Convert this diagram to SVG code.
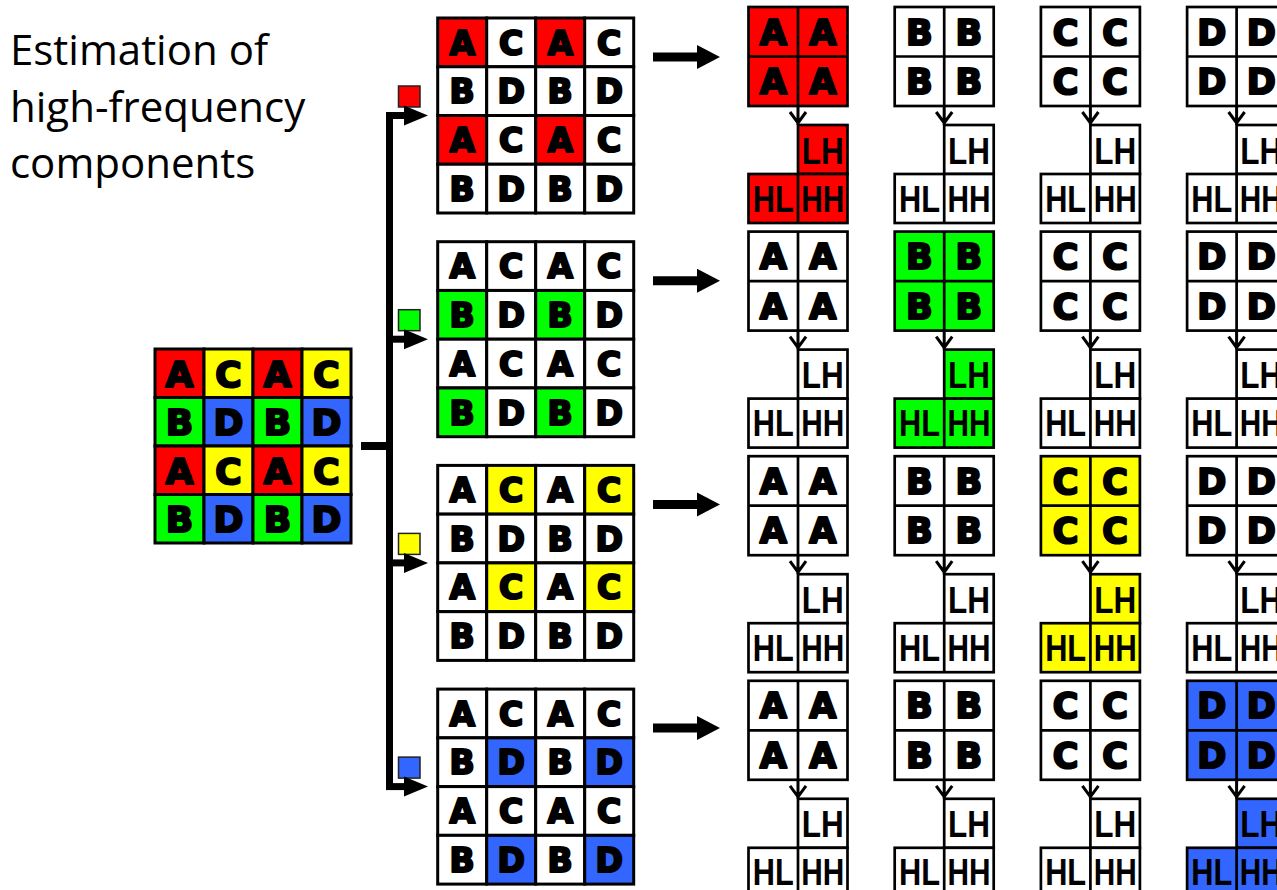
<svg xmlns="http://www.w3.org/2000/svg" width="1277" height="890" viewBox="0 0 1277 890">
<style>
.title{font-family:"Open Sans","Liberation Sans",sans-serif;font-size:42px;fill:#000}
.c{fill:#fff;stroke:#000;stroke-width:3}
.rb{fill:#fff;stroke:#000;stroke-width:2.7}
.rl{fill:none;stroke:#000;stroke-width:2.7}
.c.r,.rb.r{fill:#FF0000}
.c.g,.rb.g{fill:#00FF00}
.c.y,.rb.y{fill:#FFFF00}
.c.b,.rb.b{fill:#3366FF}
.L{font-family:"DejaVu Sans","Liberation Sans",sans-serif;font-weight:bold;text-anchor:middle;fill:#000;stroke:#000;stroke-width:2.2;stroke-linejoin:round}
.Ll{font-size:36px}
.Lm{font-size:33px}
.Lr{font-size:35px}
.sub{font-family:"Liberation Sans",Arial,sans-serif;font-weight:bold;font-size:36px;text-anchor:middle;fill:#000}
.ind{stroke:#222;stroke-width:1.5}
.ind.r{fill:#FF0000}.ind.g{fill:#00FF00}.ind.y{fill:#FFFF00}.ind.b{fill:#3366FF}
.k{fill:none;stroke:#000}
.hd{fill:#000}
</style>

<g id="title">
<text class="title" x="10" y="65">Estimation of</text>
<text class="title" x="10" y="122">high-frequency</text>
<text class="title" x="10" y="178">components</text>
</g>

<g id="input" transform="translate(155,349)">
<rect class="c r" x="0" y="0" width="49" height="48.5"/><rect class="c y" x="49" y="0" width="49" height="48.5"/><rect class="c r" x="98" y="0" width="49" height="48.5"/><rect class="c y" x="147" y="0" width="49" height="48.5"/>
<rect class="c g" x="0" y="48.5" width="49" height="48.5"/><rect class="c b" x="49" y="48.5" width="49" height="48.5"/><rect class="c g" x="98" y="48.5" width="49" height="48.5"/><rect class="c b" x="147" y="48.5" width="49" height="48.5"/>
<rect class="c r" x="0" y="97" width="49" height="48.5"/><rect class="c y" x="49" y="97" width="49" height="48.5"/><rect class="c r" x="98" y="97" width="49" height="48.5"/><rect class="c y" x="147" y="97" width="49" height="48.5"/>
<rect class="c g" x="0" y="145.5" width="49" height="48.5"/><rect class="c b" x="49" y="145.5" width="49" height="48.5"/><rect class="c g" x="98" y="145.5" width="49" height="48.5"/><rect class="c b" x="147" y="145.5" width="49" height="48.5"/>
<text class="L Ll" x="24.5" y="37.5">A</text><text class="L Ll" x="73.5" y="37.5">C</text><text class="L Ll" x="122.5" y="37.5">A</text><text class="L Ll" x="171.5" y="37.5">C</text>
<text class="L Ll" x="24.5" y="86">B</text><text class="L Ll" x="73.5" y="86">D</text><text class="L Ll" x="122.5" y="86">B</text><text class="L Ll" x="171.5" y="86">D</text>
<text class="L Ll" x="24.5" y="134.5">A</text><text class="L Ll" x="73.5" y="134.5">C</text><text class="L Ll" x="122.5" y="134.5">A</text><text class="L Ll" x="171.5" y="134.5">C</text>
<text class="L Ll" x="24.5" y="183">B</text><text class="L Ll" x="73.5" y="183">D</text><text class="L Ll" x="122.5" y="183">B</text><text class="L Ll" x="171.5" y="183">D</text>
</g>

<g id="grid-A" transform="translate(437.7,18)">
<rect class="c r" x="0" y="0" width="49" height="48.75"/><rect class="c" x="49" y="0" width="49" height="48.75"/><rect class="c r" x="98" y="0" width="49" height="48.75"/><rect class="c" x="147" y="0" width="49" height="48.75"/>
<rect class="c" x="0" y="48.75" width="49" height="48.75"/><rect class="c" x="49" y="48.75" width="49" height="48.75"/><rect class="c" x="98" y="48.75" width="49" height="48.75"/><rect class="c" x="147" y="48.75" width="49" height="48.75"/>
<rect class="c r" x="0" y="97.5" width="49" height="48.75"/><rect class="c" x="49" y="97.5" width="49" height="48.75"/><rect class="c r" x="98" y="97.5" width="49" height="48.75"/><rect class="c" x="147" y="97.5" width="49" height="48.75"/>
<rect class="c" x="0" y="146.25" width="49" height="48.75"/><rect class="c" x="49" y="146.25" width="49" height="48.75"/><rect class="c" x="98" y="146.25" width="49" height="48.75"/><rect class="c" x="147" y="146.25" width="49" height="48.75"/>
<text class="L Lm" x="24.5" y="36.6">A</text><text class="L Lm" x="73.5" y="36.6">C</text><text class="L Lm" x="122.5" y="36.6">A</text><text class="L Lm" x="171.5" y="36.6">C</text>
<text class="L Lm" x="24.5" y="85.4">B</text><text class="L Lm" x="73.5" y="85.4">D</text><text class="L Lm" x="122.5" y="85.4">B</text><text class="L Lm" x="171.5" y="85.4">D</text>
<text class="L Lm" x="24.5" y="134.1">A</text><text class="L Lm" x="73.5" y="134.1">C</text><text class="L Lm" x="122.5" y="134.1">A</text><text class="L Lm" x="171.5" y="134.1">C</text>
<text class="L Lm" x="24.5" y="182.9">B</text><text class="L Lm" x="73.5" y="182.9">D</text><text class="L Lm" x="122.5" y="182.9">B</text><text class="L Lm" x="171.5" y="182.9">D</text>
</g>

<g id="grid-B" transform="translate(437.7,241.7)">
<rect class="c" x="0" y="0" width="49" height="48.75"/><rect class="c" x="49" y="0" width="49" height="48.75"/><rect class="c" x="98" y="0" width="49" height="48.75"/><rect class="c" x="147" y="0" width="49" height="48.75"/>
<rect class="c g" x="0" y="48.75" width="49" height="48.75"/><rect class="c" x="49" y="48.75" width="49" height="48.75"/><rect class="c g" x="98" y="48.75" width="49" height="48.75"/><rect class="c" x="147" y="48.75" width="49" height="48.75"/>
<rect class="c" x="0" y="97.5" width="49" height="48.75"/><rect class="c" x="49" y="97.5" width="49" height="48.75"/><rect class="c" x="98" y="97.5" width="49" height="48.75"/><rect class="c" x="147" y="97.5" width="49" height="48.75"/>
<rect class="c g" x="0" y="146.25" width="49" height="48.75"/><rect class="c" x="49" y="146.25" width="49" height="48.75"/><rect class="c g" x="98" y="146.25" width="49" height="48.75"/><rect class="c" x="147" y="146.25" width="49" height="48.75"/>
<text class="L Lm" x="24.5" y="36.6">A</text><text class="L Lm" x="73.5" y="36.6">C</text><text class="L Lm" x="122.5" y="36.6">A</text><text class="L Lm" x="171.5" y="36.6">C</text>
<text class="L Lm" x="24.5" y="85.4">B</text><text class="L Lm" x="73.5" y="85.4">D</text><text class="L Lm" x="122.5" y="85.4">B</text><text class="L Lm" x="171.5" y="85.4">D</text>
<text class="L Lm" x="24.5" y="134.1">A</text><text class="L Lm" x="73.5" y="134.1">C</text><text class="L Lm" x="122.5" y="134.1">A</text><text class="L Lm" x="171.5" y="134.1">C</text>
<text class="L Lm" x="24.5" y="182.9">B</text><text class="L Lm" x="73.5" y="182.9">D</text><text class="L Lm" x="122.5" y="182.9">B</text><text class="L Lm" x="171.5" y="182.9">D</text>
</g>

<g id="grid-C" transform="translate(437.7,465.4)">
<rect class="c" x="0" y="0" width="49" height="48.75"/><rect class="c y" x="49" y="0" width="49" height="48.75"/><rect class="c" x="98" y="0" width="49" height="48.75"/><rect class="c y" x="147" y="0" width="49" height="48.75"/>
<rect class="c" x="0" y="48.75" width="49" height="48.75"/><rect class="c" x="49" y="48.75" width="49" height="48.75"/><rect class="c" x="98" y="48.75" width="49" height="48.75"/><rect class="c" x="147" y="48.75" width="49" height="48.75"/>
<rect class="c" x="0" y="97.5" width="49" height="48.75"/><rect class="c y" x="49" y="97.5" width="49" height="48.75"/><rect class="c" x="98" y="97.5" width="49" height="48.75"/><rect class="c y" x="147" y="97.5" width="49" height="48.75"/>
<rect class="c" x="0" y="146.25" width="49" height="48.75"/><rect class="c" x="49" y="146.25" width="49" height="48.75"/><rect class="c" x="98" y="146.25" width="49" height="48.75"/><rect class="c" x="147" y="146.25" width="49" height="48.75"/>
<text class="L Lm" x="24.5" y="36.6">A</text><text class="L Lm" x="73.5" y="36.6">C</text><text class="L Lm" x="122.5" y="36.6">A</text><text class="L Lm" x="171.5" y="36.6">C</text>
<text class="L Lm" x="24.5" y="85.4">B</text><text class="L Lm" x="73.5" y="85.4">D</text><text class="L Lm" x="122.5" y="85.4">B</text><text class="L Lm" x="171.5" y="85.4">D</text>
<text class="L Lm" x="24.5" y="134.1">A</text><text class="L Lm" x="73.5" y="134.1">C</text><text class="L Lm" x="122.5" y="134.1">A</text><text class="L Lm" x="171.5" y="134.1">C</text>
<text class="L Lm" x="24.5" y="182.9">B</text><text class="L Lm" x="73.5" y="182.9">D</text><text class="L Lm" x="122.5" y="182.9">B</text><text class="L Lm" x="171.5" y="182.9">D</text>
</g>

<g id="grid-D" transform="translate(437.7,689.1)">
<rect class="c" x="0" y="0" width="49" height="48.75"/><rect class="c" x="49" y="0" width="49" height="48.75"/><rect class="c" x="98" y="0" width="49" height="48.75"/><rect class="c" x="147" y="0" width="49" height="48.75"/>
<rect class="c" x="0" y="48.75" width="49" height="48.75"/><rect class="c b" x="49" y="48.75" width="49" height="48.75"/><rect class="c" x="98" y="48.75" width="49" height="48.75"/><rect class="c b" x="147" y="48.75" width="49" height="48.75"/>
<rect class="c" x="0" y="97.5" width="49" height="48.75"/><rect class="c" x="49" y="97.5" width="49" height="48.75"/><rect class="c" x="98" y="97.5" width="49" height="48.75"/><rect class="c" x="147" y="97.5" width="49" height="48.75"/>
<rect class="c" x="0" y="146.25" width="49" height="48.75"/><rect class="c b" x="49" y="146.25" width="49" height="48.75"/><rect class="c" x="98" y="146.25" width="49" height="48.75"/><rect class="c b" x="147" y="146.25" width="49" height="48.75"/>
<text class="L Lm" x="24.5" y="36.6">A</text><text class="L Lm" x="73.5" y="36.6">C</text><text class="L Lm" x="122.5" y="36.6">A</text><text class="L Lm" x="171.5" y="36.6">C</text>
<text class="L Lm" x="24.5" y="85.4">B</text><text class="L Lm" x="73.5" y="85.4">D</text><text class="L Lm" x="122.5" y="85.4">B</text><text class="L Lm" x="171.5" y="85.4">D</text>
<text class="L Lm" x="24.5" y="134.1">A</text><text class="L Lm" x="73.5" y="134.1">C</text><text class="L Lm" x="122.5" y="134.1">A</text><text class="L Lm" x="171.5" y="134.1">C</text>
<text class="L Lm" x="24.5" y="182.9">B</text><text class="L Lm" x="73.5" y="182.9">D</text><text class="L Lm" x="122.5" y="182.9">B</text><text class="L Lm" x="171.5" y="182.9">D</text>
</g>

<g id="indicators">
<rect id="ind-A" class="ind r" x="398.5" y="86" width="21.5" height="21"/>
<rect id="ind-B" class="ind g" x="398.5" y="309.7" width="21.5" height="21"/>
<rect id="ind-C" class="ind y" x="398.5" y="533.4" width="21.5" height="21"/>
<rect id="ind-D" class="ind b" x="398.5" y="757.1" width="21.5" height="21"/>
</g>

<!-- Right blocks: row 0 (A) -->
<g id="blk-0-A" transform="translate(748.5,7)">
<rect class="rb r" x="0" y="0" width="99" height="99"/><rect class="rb r" x="49.5" y="118" width="49.5" height="49"/><rect class="rb r" x="0" y="167" width="99" height="49"/>
<path class="rl" d="M49.5 0V99M0 49.5H99M49.5 167V216"/>
<text class="L Lr" x="24.75" y="37.5">A</text><text class="L Lr" x="74.25" y="37.5">A</text><text class="L Lr" x="24.75" y="87">A</text><text class="L Lr" x="74.25" y="87">A</text>
<text class="sub" x="74.25" y="156.5" textLength="42" lengthAdjust="spacingAndGlyphs">LH</text><text class="sub" x="24.75" y="204.5" textLength="41" lengthAdjust="spacingAndGlyphs">HL</text><text class="sub" x="74.25" y="204.5" textLength="43" lengthAdjust="spacingAndGlyphs">HH</text>
</g>
<g id="blk-0-B" transform="translate(894.7,7)">
<rect class="rb" x="0" y="0" width="99" height="99"/><rect class="rb" x="49.5" y="118" width="49.5" height="49"/><rect class="rb" x="0" y="167" width="99" height="49"/>
<path class="rl" d="M49.5 0V99M0 49.5H99M49.5 167V216"/>
<text class="L Lr" x="24.75" y="37.5">B</text><text class="L Lr" x="74.25" y="37.5">B</text><text class="L Lr" x="24.75" y="87">B</text><text class="L Lr" x="74.25" y="87">B</text>
<text class="sub" x="74.25" y="156.5" textLength="42" lengthAdjust="spacingAndGlyphs">LH</text><text class="sub" x="24.75" y="204.5" textLength="41" lengthAdjust="spacingAndGlyphs">HL</text><text class="sub" x="74.25" y="204.5" textLength="43" lengthAdjust="spacingAndGlyphs">HH</text>
</g>
<g id="blk-0-C" transform="translate(1040.9,7)">
<rect class="rb" x="0" y="0" width="99" height="99"/><rect class="rb" x="49.5" y="118" width="49.5" height="49"/><rect class="rb" x="0" y="167" width="99" height="49"/>
<path class="rl" d="M49.5 0V99M0 49.5H99M49.5 167V216"/>
<text class="L Lr" x="24.75" y="37.5">C</text><text class="L Lr" x="74.25" y="37.5">C</text><text class="L Lr" x="24.75" y="87">C</text><text class="L Lr" x="74.25" y="87">C</text>
<text class="sub" x="74.25" y="156.5" textLength="42" lengthAdjust="spacingAndGlyphs">LH</text><text class="sub" x="24.75" y="204.5" textLength="41" lengthAdjust="spacingAndGlyphs">HL</text><text class="sub" x="74.25" y="204.5" textLength="43" lengthAdjust="spacingAndGlyphs">HH</text>
</g>
<g id="blk-0-D" transform="translate(1187.1,7)">
<rect class="rb" x="0" y="0" width="99" height="99"/><rect class="rb" x="49.5" y="118" width="49.5" height="49"/><rect class="rb" x="0" y="167" width="99" height="49"/>
<path class="rl" d="M49.5 0V99M0 49.5H99M49.5 167V216"/>
<text class="L Lr" x="24.75" y="37.5">D</text><text class="L Lr" x="74.25" y="37.5">D</text><text class="L Lr" x="24.75" y="87">D</text><text class="L Lr" x="74.25" y="87">D</text>
<text class="sub" x="74.25" y="156.5" textLength="42" lengthAdjust="spacingAndGlyphs">LH</text><text class="sub" x="24.75" y="204.5" textLength="41" lengthAdjust="spacingAndGlyphs">HL</text><text class="sub" x="74.25" y="204.5" textLength="43" lengthAdjust="spacingAndGlyphs">HH</text>
</g>

<!-- row 1 (B) -->
<g id="blk-1-A" transform="translate(748.5,231.6)">
<rect class="rb" x="0" y="0" width="99" height="99"/><rect class="rb" x="49.5" y="118" width="49.5" height="49"/><rect class="rb" x="0" y="167" width="99" height="49"/>
<path class="rl" d="M49.5 0V99M0 49.5H99M49.5 167V216"/>
<text class="L Lr" x="24.75" y="37.5">A</text><text class="L Lr" x="74.25" y="37.5">A</text><text class="L Lr" x="24.75" y="87">A</text><text class="L Lr" x="74.25" y="87">A</text>
<text class="sub" x="74.25" y="156.5" textLength="42" lengthAdjust="spacingAndGlyphs">LH</text><text class="sub" x="24.75" y="204.5" textLength="41" lengthAdjust="spacingAndGlyphs">HL</text><text class="sub" x="74.25" y="204.5" textLength="43" lengthAdjust="spacingAndGlyphs">HH</text>
</g>
<g id="blk-1-B" transform="translate(894.7,231.6)">
<rect class="rb g" x="0" y="0" width="99" height="99"/><rect class="rb g" x="49.5" y="118" width="49.5" height="49"/><rect class="rb g" x="0" y="167" width="99" height="49"/>
<path class="rl" d="M49.5 0V99M0 49.5H99M49.5 167V216"/>
<text class="L Lr" x="24.75" y="37.5">B</text><text class="L Lr" x="74.25" y="37.5">B</text><text class="L Lr" x="24.75" y="87">B</text><text class="L Lr" x="74.25" y="87">B</text>
<text class="sub" x="74.25" y="156.5" textLength="42" lengthAdjust="spacingAndGlyphs">LH</text><text class="sub" x="24.75" y="204.5" textLength="41" lengthAdjust="spacingAndGlyphs">HL</text><text class="sub" x="74.25" y="204.5" textLength="43" lengthAdjust="spacingAndGlyphs">HH</text>
</g>
<g id="blk-1-C" transform="translate(1040.9,231.6)">
<rect class="rb" x="0" y="0" width="99" height="99"/><rect class="rb" x="49.5" y="118" width="49.5" height="49"/><rect class="rb" x="0" y="167" width="99" height="49"/>
<path class="rl" d="M49.5 0V99M0 49.5H99M49.5 167V216"/>
<text class="L Lr" x="24.75" y="37.5">C</text><text class="L Lr" x="74.25" y="37.5">C</text><text class="L Lr" x="24.75" y="87">C</text><text class="L Lr" x="74.25" y="87">C</text>
<text class="sub" x="74.25" y="156.5" textLength="42" lengthAdjust="spacingAndGlyphs">LH</text><text class="sub" x="24.75" y="204.5" textLength="41" lengthAdjust="spacingAndGlyphs">HL</text><text class="sub" x="74.25" y="204.5" textLength="43" lengthAdjust="spacingAndGlyphs">HH</text>
</g>
<g id="blk-1-D" transform="translate(1187.1,231.6)">
<rect class="rb" x="0" y="0" width="99" height="99"/><rect class="rb" x="49.5" y="118" width="49.5" height="49"/><rect class="rb" x="0" y="167" width="99" height="49"/>
<path class="rl" d="M49.5 0V99M0 49.5H99M49.5 167V216"/>
<text class="L Lr" x="24.75" y="37.5">D</text><text class="L Lr" x="74.25" y="37.5">D</text><text class="L Lr" x="24.75" y="87">D</text><text class="L Lr" x="74.25" y="87">D</text>
<text class="sub" x="74.25" y="156.5" textLength="42" lengthAdjust="spacingAndGlyphs">LH</text><text class="sub" x="24.75" y="204.5" textLength="41" lengthAdjust="spacingAndGlyphs">HL</text><text class="sub" x="74.25" y="204.5" textLength="43" lengthAdjust="spacingAndGlyphs">HH</text>
</g>

<!-- row 2 (C) -->
<g id="blk-2-A" transform="translate(748.5,456.2)">
<rect class="rb" x="0" y="0" width="99" height="99"/><rect class="rb" x="49.5" y="118" width="49.5" height="49"/><rect class="rb" x="0" y="167" width="99" height="49"/>
<path class="rl" d="M49.5 0V99M0 49.5H99M49.5 167V216"/>
<text class="L Lr" x="24.75" y="37.5">A</text><text class="L Lr" x="74.25" y="37.5">A</text><text class="L Lr" x="24.75" y="87">A</text><text class="L Lr" x="74.25" y="87">A</text>
<text class="sub" x="74.25" y="156.5" textLength="42" lengthAdjust="spacingAndGlyphs">LH</text><text class="sub" x="24.75" y="204.5" textLength="41" lengthAdjust="spacingAndGlyphs">HL</text><text class="sub" x="74.25" y="204.5" textLength="43" lengthAdjust="spacingAndGlyphs">HH</text>
</g>
<g id="blk-2-B" transform="translate(894.7,456.2)">
<rect class="rb" x="0" y="0" width="99" height="99"/><rect class="rb" x="49.5" y="118" width="49.5" height="49"/><rect class="rb" x="0" y="167" width="99" height="49"/>
<path class="rl" d="M49.5 0V99M0 49.5H99M49.5 167V216"/>
<text class="L Lr" x="24.75" y="37.5">B</text><text class="L Lr" x="74.25" y="37.5">B</text><text class="L Lr" x="24.75" y="87">B</text><text class="L Lr" x="74.25" y="87">B</text>
<text class="sub" x="74.25" y="156.5" textLength="42" lengthAdjust="spacingAndGlyphs">LH</text><text class="sub" x="24.75" y="204.5" textLength="41" lengthAdjust="spacingAndGlyphs">HL</text><text class="sub" x="74.25" y="204.5" textLength="43" lengthAdjust="spacingAndGlyphs">HH</text>
</g>
<g id="blk-2-C" transform="translate(1040.9,456.2)">
<rect class="rb y" x="0" y="0" width="99" height="99"/><rect class="rb y" x="49.5" y="118" width="49.5" height="49"/><rect class="rb y" x="0" y="167" width="99" height="49"/>
<path class="rl" d="M49.5 0V99M0 49.5H99M49.5 167V216"/>
<text class="L Lr" x="24.75" y="37.5">C</text><text class="L Lr" x="74.25" y="37.5">C</text><text class="L Lr" x="24.75" y="87">C</text><text class="L Lr" x="74.25" y="87">C</text>
<text class="sub" x="74.25" y="156.5" textLength="42" lengthAdjust="spacingAndGlyphs">LH</text><text class="sub" x="24.75" y="204.5" textLength="41" lengthAdjust="spacingAndGlyphs">HL</text><text class="sub" x="74.25" y="204.5" textLength="43" lengthAdjust="spacingAndGlyphs">HH</text>
</g>
<g id="blk-2-D" transform="translate(1187.1,456.2)">
<rect class="rb" x="0" y="0" width="99" height="99"/><rect class="rb" x="49.5" y="118" width="49.5" height="49"/><rect class="rb" x="0" y="167" width="99" height="49"/>
<path class="rl" d="M49.5 0V99M0 49.5H99M49.5 167V216"/>
<text class="L Lr" x="24.75" y="37.5">D</text><text class="L Lr" x="74.25" y="37.5">D</text><text class="L Lr" x="24.75" y="87">D</text><text class="L Lr" x="74.25" y="87">D</text>
<text class="sub" x="74.25" y="156.5" textLength="42" lengthAdjust="spacingAndGlyphs">LH</text><text class="sub" x="24.75" y="204.5" textLength="41" lengthAdjust="spacingAndGlyphs">HL</text><text class="sub" x="74.25" y="204.5" textLength="43" lengthAdjust="spacingAndGlyphs">HH</text>
</g>

<!-- row 3 (D) -->
<g id="blk-3-A" transform="translate(748.5,680.8)">
<rect class="rb" x="0" y="0" width="99" height="99"/><rect class="rb" x="49.5" y="118" width="49.5" height="49"/><rect class="rb" x="0" y="167" width="99" height="49"/>
<path class="rl" d="M49.5 0V99M0 49.5H99M49.5 167V216"/>
<text class="L Lr" x="24.75" y="37.5">A</text><text class="L Lr" x="74.25" y="37.5">A</text><text class="L Lr" x="24.75" y="87">A</text><text class="L Lr" x="74.25" y="87">A</text>
<text class="sub" x="74.25" y="156.5" textLength="42" lengthAdjust="spacingAndGlyphs">LH</text><text class="sub" x="24.75" y="204.5" textLength="41" lengthAdjust="spacingAndGlyphs">HL</text><text class="sub" x="74.25" y="204.5" textLength="43" lengthAdjust="spacingAndGlyphs">HH</text>
</g>
<g id="blk-3-B" transform="translate(894.7,680.8)">
<rect class="rb" x="0" y="0" width="99" height="99"/><rect class="rb" x="49.5" y="118" width="49.5" height="49"/><rect class="rb" x="0" y="167" width="99" height="49"/>
<path class="rl" d="M49.5 0V99M0 49.5H99M49.5 167V216"/>
<text class="L Lr" x="24.75" y="37.5">B</text><text class="L Lr" x="74.25" y="37.5">B</text><text class="L Lr" x="24.75" y="87">B</text><text class="L Lr" x="74.25" y="87">B</text>
<text class="sub" x="74.25" y="156.5" textLength="42" lengthAdjust="spacingAndGlyphs">LH</text><text class="sub" x="24.75" y="204.5" textLength="41" lengthAdjust="spacingAndGlyphs">HL</text><text class="sub" x="74.25" y="204.5" textLength="43" lengthAdjust="spacingAndGlyphs">HH</text>
</g>
<g id="blk-3-C" transform="translate(1040.9,680.8)">
<rect class="rb" x="0" y="0" width="99" height="99"/><rect class="rb" x="49.5" y="118" width="49.5" height="49"/><rect class="rb" x="0" y="167" width="99" height="49"/>
<path class="rl" d="M49.5 0V99M0 49.5H99M49.5 167V216"/>
<text class="L Lr" x="24.75" y="37.5">C</text><text class="L Lr" x="74.25" y="37.5">C</text><text class="L Lr" x="24.75" y="87">C</text><text class="L Lr" x="74.25" y="87">C</text>
<text class="sub" x="74.25" y="156.5" textLength="42" lengthAdjust="spacingAndGlyphs">LH</text><text class="sub" x="24.75" y="204.5" textLength="41" lengthAdjust="spacingAndGlyphs">HL</text><text class="sub" x="74.25" y="204.5" textLength="43" lengthAdjust="spacingAndGlyphs">HH</text>
</g>
<g id="blk-3-D" transform="translate(1187.1,680.8)">
<rect class="rb b" x="0" y="0" width="99" height="99"/><rect class="rb b" x="49.5" y="118" width="49.5" height="49"/><rect class="rb b" x="0" y="167" width="99" height="49"/>
<path class="rl" d="M49.5 0V99M0 49.5H99M49.5 167V216"/>
<text class="L Lr" x="24.75" y="37.5">D</text><text class="L Lr" x="74.25" y="37.5">D</text><text class="L Lr" x="24.75" y="87">D</text><text class="L Lr" x="74.25" y="87">D</text>
<text class="sub" x="74.25" y="156.5" textLength="42" lengthAdjust="spacingAndGlyphs">LH</text><text class="sub" x="24.75" y="204.5" textLength="41" lengthAdjust="spacingAndGlyphs">HL</text><text class="sub" x="74.25" y="204.5" textLength="43" lengthAdjust="spacingAndGlyphs">HH</text>
</g>

<g id="connectors">
<line class="k" x1="361" y1="446" x2="390" y2="446" stroke-width="8"/>
<line class="k" x1="389.5" y1="112" x2="389.5" y2="790" stroke-width="7"/>
<path class="k" d="M386 115.5H406" stroke-width="7"/><polygon class="hd" points="404,105.5 428,115.5 404,125.5"/>
<path class="k" d="M386 339.2H406" stroke-width="7"/><polygon class="hd" points="404,329.2 428,339.2 404,349.2"/>
<path class="k" d="M386 562.9H406" stroke-width="7"/><polygon class="hd" points="404,552.9 428,562.9 404,572.9"/>
<path class="k" d="M386 786.6H406" stroke-width="7"/><polygon class="hd" points="404,776.6 428,786.6 404,796.6"/>

<path class="k" d="M653 57H699" stroke-width="9"/><polygon class="hd" points="697,45 720,57 697,69"/>
<path class="k" d="M653 280.7H699" stroke-width="9"/><polygon class="hd" points="697,268.7 720,280.7 697,292.7"/>
<path class="k" d="M653 504.4H699" stroke-width="9"/><polygon class="hd" points="697,492.4 720,504.4 697,516.4"/>
<path class="k" d="M653 728.1H699" stroke-width="9"/><polygon class="hd" points="697,716.1 720,728.1 697,740.1"/>

<path class="k" stroke-width="3" d="M798 106V125M790 112L798 123L806 112"/>
<path class="k" stroke-width="3" d="M944.2 106V125M936.2 112L944.2 123L952.2 112"/>
<path class="k" stroke-width="3" d="M1090.4 106V125M1082.4 112L1090.4 123L1098.4 112"/>
<path class="k" stroke-width="3" d="M1236.6 106V125M1228.6 112L1236.6 123L1244.6 112"/>
<path class="k" stroke-width="3" d="M798 330.6V349.6M790 336.6L798 347.6L806 336.6"/>
<path class="k" stroke-width="3" d="M944.2 330.6V349.6M936.2 336.6L944.2 347.6L952.2 336.6"/>
<path class="k" stroke-width="3" d="M1090.4 330.6V349.6M1082.4 336.6L1090.4 347.6L1098.4 336.6"/>
<path class="k" stroke-width="3" d="M1236.6 330.6V349.6M1228.6 336.6L1236.6 347.6L1244.6 336.6"/>
<path class="k" stroke-width="3" d="M798 555.2V574.2M790 561.2L798 572.2L806 561.2"/>
<path class="k" stroke-width="3" d="M944.2 555.2V574.2M936.2 561.2L944.2 572.2L952.2 561.2"/>
<path class="k" stroke-width="3" d="M1090.4 555.2V574.2M1082.4 561.2L1090.4 572.2L1098.4 561.2"/>
<path class="k" stroke-width="3" d="M1236.6 555.2V574.2M1228.6 561.2L1236.6 572.2L1244.6 561.2"/>
<path class="k" stroke-width="3" d="M798 779.8V798.8M790 785.8L798 796.8L806 785.8"/>
<path class="k" stroke-width="3" d="M944.2 779.8V798.8M936.2 785.8L944.2 796.8L952.2 785.8"/>
<path class="k" stroke-width="3" d="M1090.4 779.8V798.8M1082.4 785.8L1090.4 796.8L1098.4 785.8"/>
<path class="k" stroke-width="3" d="M1236.6 779.8V798.8M1228.6 785.8L1236.6 796.8L1244.6 785.8"/>
</g>
</svg>
